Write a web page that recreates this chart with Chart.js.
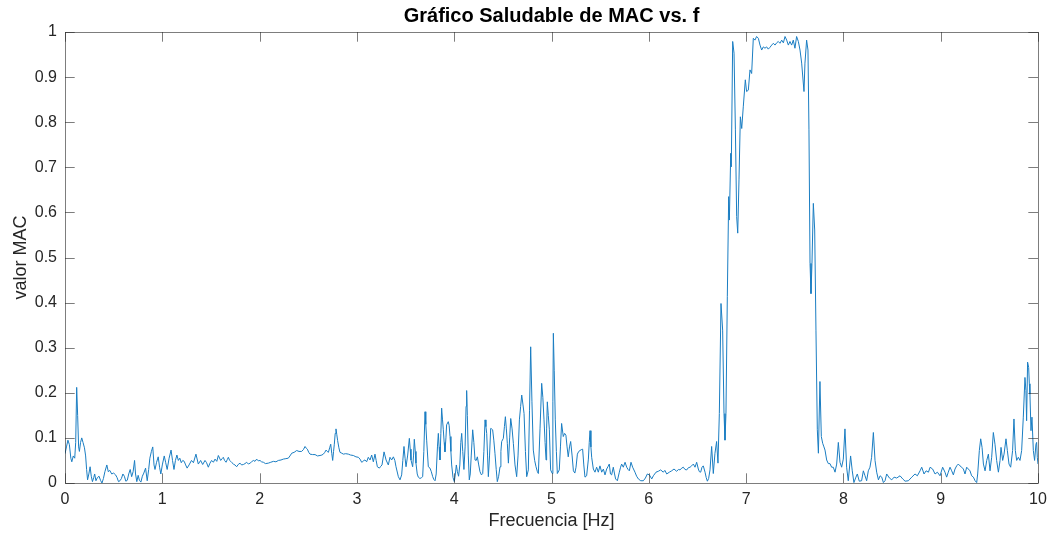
<!DOCTYPE html>
<html>
<head>
<meta charset="utf-8">
<title>Gráfico Saludable de MAC vs. f</title>
<script src="https://cdn.jsdelivr.net/npm/chart.js@4.4.1/dist/chart.umd.min.js"></script>
<style>
	html, body { margin: 0; padding: 0; background: #fff; }
	#wrap { width: 1055px; height: 540px; }
</style>
</head>
<body>
<div id="wrap"><canvas id="macChart"></canvas></div>
<script>
// [frecuencia Hz, valor MAC], split by band
const mac0to1 = [
	[0.000,0.065],[0.015,0.08],[0.030,0.095],[0.045,0.085],[0.060,0.055],[0.070,0.047],[0.085,0.06],[0.100,0.055],
	[0.110,0.09],[0.120,0.212],[0.130,0.15],[0.140,0.08],[0.148,0.07],[0.160,0.09],[0.172,0.100],[0.185,0.09],
	[0.200,0.078],[0.212,0.06],[0.222,0.03],[0.232,0.007],[0.245,0.02],[0.258,0.036],[0.270,0.015],[0.282,0.003],
	[0.295,0.012],[0.305,0.02],[0.318,0.005],[0.333,0.012],[0.350,0.015],[0.365,0.006],[0.380,0.0],[0.395,0.01],
	[0.410,0.025],[0.430,0.04],[0.445,0.025],[0.460,0.028],[0.480,0.02],[0.500,0.022],[0.520,0.018],[0.535,0.012],
	[0.550,0.003],[0.565,0.005],[0.580,0.01],[0.595,0.02],[0.610,0.015],[0.625,0.004],[0.640,0.006],[0.655,0.02],
	[0.670,0.030],[0.685,0.014],[0.700,0.025],[0.715,0.05],[0.725,0.02],[0.738,0.003],[0.752,0.017],[0.765,0.006],
	[0.780,0.002],[0.795,0.015],[0.810,0.022],[0.828,0.033],[0.845,0.005],[0.860,0.03],[0.872,0.055],[0.888,0.07],
	[0.902,0.08],[0.915,0.04],[0.925,0.03],[0.940,0.045],[0.958,0.058],[0.972,0.035],[0.985,0.02],[1.000,0.04],
	[1.020,0.06],[1.035,0.045],[1.050,0.03],[1.070,0.055],[1.090,0.073],[1.105,0.05],[1.120,0.03],[1.135,0.05],
	[1.150,0.062],[1.165,0.05],[1.180,0.055],[1.195,0.045],[1.210,0.05],[1.225,0.048],[1.240,0.04],[1.255,0.033],
	[1.275,0.04],[1.300,0.05],[1.320,0.045],[1.346,0.064],[1.370,0.042]
];
const mac1to3 = [
	[1.394,0.05],[1.415,0.041],[1.439,0.05],[1.455,0.045],[1.473,0.035],[1.490,0.044],[1.507,0.05],[1.525,0.046],
	[1.542,0.053],[1.560,0.048],[1.576,0.061],[1.600,0.05],[1.615,0.054],[1.627,0.057],[1.640,0.05],[1.655,0.046],
	[1.668,0.052],[1.679,0.057],[1.692,0.05],[1.703,0.048],[1.716,0.045],[1.730,0.042],[1.747,0.04],[1.764,0.036],
	[1.780,0.041],[1.799,0.044],[1.815,0.04],[1.833,0.041],[1.850,0.043],[1.867,0.046],[1.885,0.042],[1.902,0.044],
	[1.918,0.047],[1.936,0.05],[1.953,0.048],[1.970,0.053],[1.987,0.049],[2.004,0.05],[2.020,0.047],[2.039,0.046],
	[2.060,0.043],[2.090,0.044],[2.115,0.046],[2.142,0.048],[2.168,0.047],[2.193,0.05],[2.220,0.051],[2.244,0.053],
	[2.270,0.054],[2.295,0.055],[2.312,0.06],[2.330,0.066],[2.355,0.068],[2.381,0.072],[2.405,0.07],[2.432,0.07],
	[2.450,0.074],[2.467,0.081],[2.480,0.077],[2.491,0.075],[2.505,0.068],[2.518,0.064],[2.545,0.063],[2.570,0.063],
	[2.595,0.06],[2.621,0.061],[2.640,0.062],[2.655,0.064],[2.670,0.068],[2.683,0.073],[2.695,0.07],[2.707,0.068],
	[2.720,0.078],[2.731,0.086],[2.742,0.065],[2.751,0.05],[2.760,0.07],[2.768,0.086],[2.777,0.11],[2.785,0.12],
	[2.793,0.108],[2.802,0.094],[2.815,0.078],[2.826,0.068],[2.845,0.066],[2.861,0.064],[2.885,0.065],[2.912,0.064],
	[2.935,0.062],[2.963,0.061],[2.990,0.058]
];
const mac3to4 = [
	[3.015,0.057],[3.032,0.053],[3.049,0.046],[3.059,0.047],[3.070,0.05],[3.083,0.051],[3.100,0.047],[3.117,0.057],
	[3.135,0.051],[3.152,0.062],[3.169,0.047],[3.186,0.064],[3.198,0.05],[3.210,0.036],[3.231,0.033],[3.245,0.037],
	[3.258,0.04],[3.279,0.069],[3.300,0.051],[3.323,0.04],[3.340,0.057],[3.357,0.051],[3.375,0.058],[3.390,0.05],
	[3.402,0.036],[3.426,0.014],[3.443,0.007],[3.460,0.018],[3.472,0.05],[3.484,0.081],[3.495,0.055],[3.505,0.036],
	[3.522,0.062],[3.539,0.099],[3.548,0.075],[3.556,0.051],[3.573,0.036],[3.582,0.06],[3.590,0.097],[3.600,0.07],
	[3.607,0.044],[3.620,0.02],[3.631,0.013],[3.648,0.01],[3.665,0.012],[3.676,0.014],[3.688,0.07],[3.700,0.158],
	[3.708,0.13],[3.717,0.095],[3.734,0.036],[3.751,0.033],[3.765,0.025],[3.779,0.014],[3.790,0.008],[3.803,0.005],
	[3.815,0.02],[3.828,0.08],[3.837,0.11],[3.845,0.08],[3.854,0.051],[3.863,0.11],[3.871,0.166],[3.880,0.14],
	[3.888,0.118],[3.897,0.09],[3.905,0.069],[3.915,0.1],[3.922,0.129],[3.939,0.136],[3.948,0.128],[3.957,0.103],
	[3.966,0.07],[3.974,0.04],[3.988,0.012],[4.001,0.003],[4.012,0.02],[4.022,0.04],[4.033,0.025],[4.045,0.015],
	[4.058,0.04],[4.068,0.09],[4.077,0.11],[4.088,0.07],[4.100,0.03],[4.112,0.08],[4.122,0.17],[4.128,0.205],
	[4.135,0.15],[4.145,0.06],[4.155,0.007],[4.165,0.02],[4.175,0.06],[4.190,0.118]
];
const mac4to5 = [
	[4.202,0.09],[4.214,0.051],[4.226,0.05],[4.238,0.058],[4.252,0.04],[4.265,0.025],[4.280,0.018],[4.293,0.021],
	[4.305,0.07],[4.317,0.14],[4.326,0.125],[4.334,0.11],[4.343,0.06],[4.351,0.014],[4.363,0.06],[4.375,0.121],
	[4.385,0.12],[4.395,0.118],[4.407,0.095],[4.419,0.066],[4.432,0.03],[4.443,0.003],[4.457,0.015],[4.471,0.036],
	[4.480,0.07],[4.488,0.092],[4.505,0.099],[4.516,0.125],[4.526,0.147],[4.536,0.12],[4.546,0.088],[4.557,0.044],
	[4.570,0.1],[4.581,0.143],[4.595,0.12],[4.608,0.088],[4.625,0.04],[4.642,0.014],[4.656,0.06],[4.670,0.14],
	[4.683,0.17],[4.694,0.195],[4.706,0.175],[4.718,0.154],[4.732,0.07],[4.745,0.014],[4.762,0.029],[4.774,0.16],
	[4.786,0.302],[4.799,0.18],[4.813,0.073],[4.827,0.05],[4.841,0.036],[4.855,0.025],[4.865,0.021],[4.882,0.12],
	[4.899,0.221],[4.911,0.19],[4.923,0.14],[4.934,0.09],[4.944,0.051],[4.950,0.12],[4.957,0.18],[4.967,0.15],
	[4.978,0.118],[4.991,0.029],[5.008,0.021],[5.014,0.18],[5.019,0.332],[5.028,0.25],[5.039,0.14],[5.050,0.07],
	[5.060,0.021],[5.080,0.029],[5.092,0.08],[5.104,0.132],[5.121,0.103],[5.135,0.11],[5.148,0.106],[5.160,0.08],
	[5.172,0.058],[5.185,0.08],[5.197,0.092],[5.212,0.06],[5.225,0.027],[5.240,0.022],[5.252,0.035],[5.266,0.064],
	[5.280,0.07],[5.293,0.072]
];
const mac5to7 = [
	[5.306,0.074],[5.320,0.075],[5.332,0.04],[5.344,0.013],[5.361,0.016],[5.379,0.053],[5.388,0.09],[5.396,0.116],
	[5.405,0.08],[5.413,0.057],[5.430,0.031],[5.447,0.024],[5.464,0.035],[5.481,0.024],[5.498,0.038],[5.516,0.024],
	[5.533,0.031],[5.550,0.018],[5.567,0.031],[5.580,0.036],[5.594,0.042],[5.606,0.02],[5.618,0.018],[5.635,0.035],
	[5.648,0.02],[5.659,0.009],[5.677,0.005],[5.697,0.024],[5.710,0.035],[5.721,0.042],[5.738,0.035],[5.756,0.046],
	[5.773,0.035],[5.787,0.03],[5.800,0.027],[5.817,0.046],[5.834,0.035],[5.858,0.024],[5.875,0.015],[5.893,0.009],
	[5.917,0.005],[5.944,0.005],[5.965,0.011],[5.985,0.02],[6.006,0.018],[6.030,0.009],[6.047,0.016],[6.074,0.024],
	[6.098,0.026],[6.122,0.029],[6.149,0.024],[6.165,0.028],[6.184,0.02],[6.211,0.024],[6.235,0.027],[6.259,0.031],
	[6.286,0.026],[6.305,0.03],[6.321,0.029],[6.338,0.033],[6.355,0.035],[6.372,0.03],[6.390,0.029],[6.407,0.034],
	[6.424,0.035],[6.440,0.038],[6.458,0.042],[6.475,0.035],[6.492,0.046],[6.509,0.031],[6.520,0.025],[6.533,0.024],
	[6.547,0.035],[6.560,0.038],[6.578,0.024],[6.590,0.012],[6.602,0.004],[6.615,0.01]
];
const macPeak = [
	[6.629,0.029],[6.646,0.081],[6.663,0.021],[6.680,0.066],[6.697,0.092],[6.711,0.044],[6.725,0.154],[6.742,0.398],
	[6.759,0.339],[6.773,0.154],[6.783,0.095],[6.793,0.154],[6.807,0.413],[6.821,0.635],[6.828,0.583],[6.842,0.731],
	[6.848,0.701],[6.862,0.979],[6.876,0.953],[6.890,0.783],[6.903,0.591],[6.914,0.554],[6.927,0.672],[6.941,0.812],
	[6.955,0.786],[6.971,0.834],[6.992,0.894],[7.005,0.868],[7.023,0.871],[7.040,0.916],[7.057,0.908],[7.074,0.986],
	[7.091,0.982],[7.108,0.99],[7.126,0.986],[7.143,0.971],[7.160,0.96],[7.177,0.967],[7.194,0.964],[7.211,0.967],
	[7.228,0.962],[7.245,0.966],[7.263,0.971],[7.280,0.975],[7.297,0.971],[7.314,0.976],[7.331,0.979],[7.348,0.975],
	[7.366,0.982],[7.383,0.976],[7.400,0.99],[7.417,0.982],[7.434,0.971],[7.451,0.979],[7.468,0.971],[7.485,0.982],
	[7.502,0.964],[7.519,0.99],[7.537,0.979],[7.554,0.96],[7.571,0.931],[7.595,0.868],[7.605,0.931],[7.622,0.982],
	[7.636,0.96],[7.646,0.783],[7.657,0.487],[7.667,0.42],[7.677,0.487],[7.691,0.62],[7.705,0.561],[7.718,0.339],
	[7.732,0.118],[7.743,0.066],[7.759,0.225],[7.773,0.103],[7.787,0.088],[7.800,0.08],[7.811,0.073],[7.828,0.051]
];
const mac8to10 = [
	[7.845,0.043],[7.862,0.043],[7.879,0.035],[7.896,0.035],[7.914,0.024],[7.931,0.042],[7.948,0.09],[7.965,0.046],
	[7.982,0.035],[7.999,0.053],[8.016,0.12],[8.033,0.035],[8.050,0.005],[8.074,0.06],[8.091,0.027],[8.108,0.001],
	[8.129,0.013],[8.143,0.02],[8.163,0.004],[8.187,0.005],[8.205,0.027],[8.222,0.016],[8.239,0.005],[8.256,0.027],
	[8.273,0.035],[8.290,0.057],[8.308,0.112],[8.325,0.05],[8.342,0.024],[8.360,0.007],[8.377,0.016],[8.394,0.013],
	[8.411,0.001],[8.428,0.005],[8.445,0.02],[8.473,0.011],[8.497,0.007],[8.521,0.013],[8.548,0.011],[8.582,0.016],
	[8.610,0.009],[8.634,0.004],[8.668,0.005],[8.703,0.013],[8.736,0.02],[8.760,0.016],[8.788,0.027],[8.805,0.035],
	[8.829,0.02],[8.850,0.027],[8.874,0.024],[8.891,0.035],[8.917,0.031],[8.942,0.02],[8.966,0.024],[8.993,0.016],
	[9.020,0.035],[9.044,0.024],[9.061,0.013],[9.078,0.024],[9.096,0.035],[9.113,0.027],[9.130,0.018],[9.147,0.031],
	[9.164,0.038],[9.181,0.042],[9.198,0.038],[9.216,0.035],[9.233,0.031],[9.250,0.02],[9.267,0.035],[9.284,0.031],
	[9.301,0.027],[9.318,0.016],[9.336,0.013],[9.353,0.005],[9.370,0.001],[9.380,0.02],[9.397,0.072],[9.411,0.098],
	[9.425,0.079],[9.439,0.042],[9.456,0.027],[9.473,0.05],[9.490,0.064],[9.507,0.027],[9.524,0.057],[9.541,0.112],
	[9.558,0.086],[9.575,0.05],[9.593,0.024],[9.610,0.05],[9.620,0.079],[9.637,0.05],[9.651,0.064],[9.671,0.098],
	[9.685,0.072],[9.702,0.042],[9.719,0.035],[9.739,0.072],[9.753,0.142],[9.767,0.072],[9.781,0.05],[9.798,0.057],
	[9.815,0.05],[9.832,0.072],[9.849,0.146],[9.866,0.234],[9.876,0.205],[9.883,0.138],[9.893,0.268],[9.904,0.256],
	[9.911,0.22],[9.917,0.197],[9.928,0.116],[9.938,0.146],[9.952,0.072],[9.965,0.05],[9.979,0.086],[9.986,0.09],
	[9.993,0.057],[10.000,0.042]
];

const xTicks = [0, 1, 2, 3, 4, 5, 6, 7, 8, 9, 10];
const yTicks = [0, 0.1, 0.2, 0.3, 0.4, 0.5, 0.6, 0.7, 0.8, 0.9, 1];

const macPoints = [].concat(mac0to1, mac1to3, mac3to4, mac4to5, mac5to7, macPeak, mac8to10)
	.map(p => ({x: p[0], y: p[1]}));

const FONT = "'Liberation Sans', Arial, Helvetica, sans-serif";
const AXIS_COLOR = '#262626';

// MATLAB style: full box with ticks pointing inwards on all four sides
const matlabBox = {
	id: 'matlabBox',
	afterDraw(chart) {
		const {ctx, chartArea: a, scales} = chart;
		const len = 9.7;
		ctx.save();
		ctx.strokeStyle = AXIS_COLOR;
		ctx.globalAlpha = 0.6;
		ctx.lineWidth = 1;
		ctx.beginPath();
		ctx.rect(Math.round(a.left) + 0.5, Math.round(a.top) + 0.5,
			Math.round(a.right - a.left), Math.round(a.bottom - a.top));
		xTicks.forEach(v => {
			const px = Math.round(scales.x.getPixelForValue(v)) + 0.5;
			ctx.moveTo(px, a.bottom); ctx.lineTo(px, a.bottom - len);
			ctx.moveTo(px, a.top); ctx.lineTo(px, a.top + len);
		});
		yTicks.forEach(v => {
			const py = Math.round(scales.y.getPixelForValue(v)) + 0.5;
			ctx.moveTo(a.left, py); ctx.lineTo(a.left + len, py);
			ctx.moveTo(a.right, py); ctx.lineTo(a.right - len, py);
		});
		ctx.stroke();
		ctx.restore();
	}
};

new Chart(document.getElementById('macChart'), {
	type: 'line',
	data: {
		datasets: [{
			data: macPoints,
			borderColor: '#1a7dc2',
			borderWidth: 1,
			pointRadius: 0,
			tension: 0,
			fill: false
		}]
	},
	options: {
		responsive: true,
		maintainAspectRatio: false,
		animation: false,
		events: [],
		layout: {padding: {left: 0, right: 17, top: 0, bottom: 0}},
		plugins: {
			legend: {display: false},
			tooltip: {enabled: false},
			title: {
				display: true,
				fullSize: false,
				text: 'Gráfico Saludable de MAC vs. f',
				color: '#000',
				font: {family: FONT, size: 20, weight: 'bold'},
				padding: {top: 4, bottom: 4}
			}
		},
		scales: {
			x: {
				type: 'linear',
				min: 0, max: 10,
				afterBuildTicks(scale) { scale.ticks = xTicks.map(v => ({value: v})); },
				afterFit(scale) { scale.height = 57; },
				grid: {display: false, drawTicks: false},
				border: {display: false},
				ticks: {color: AXIS_COLOR, padding: 7, maxRotation: 0, font: {family: FONT, size: 16}},
				title: {display: true, text: 'Frecuencia [Hz]', color: AXIS_COLOR,
					font: {family: FONT, size: 18}, padding: {top: 0, bottom: 8}}
			},
			y: {
				min: 0, max: 1,
				afterBuildTicks(scale) { scale.ticks = yTicks.map(v => ({value: v})); },
				afterFit(scale) { scale.width = 65; },
				grid: {display: false, drawTicks: false},
				border: {display: false},
				ticks: {color: AXIS_COLOR, padding: 8, font: {family: FONT, size: 16},
					callback: v => String(+v.toFixed(1))},
				title: {display: true, text: 'valor MAC', color: AXIS_COLOR,
					font: {family: FONT, size: 18}, padding: {top: 10, bottom: 0}}
			}
		}
	},
	plugins: [matlabBox]
});
</script>
</body>
</html>
